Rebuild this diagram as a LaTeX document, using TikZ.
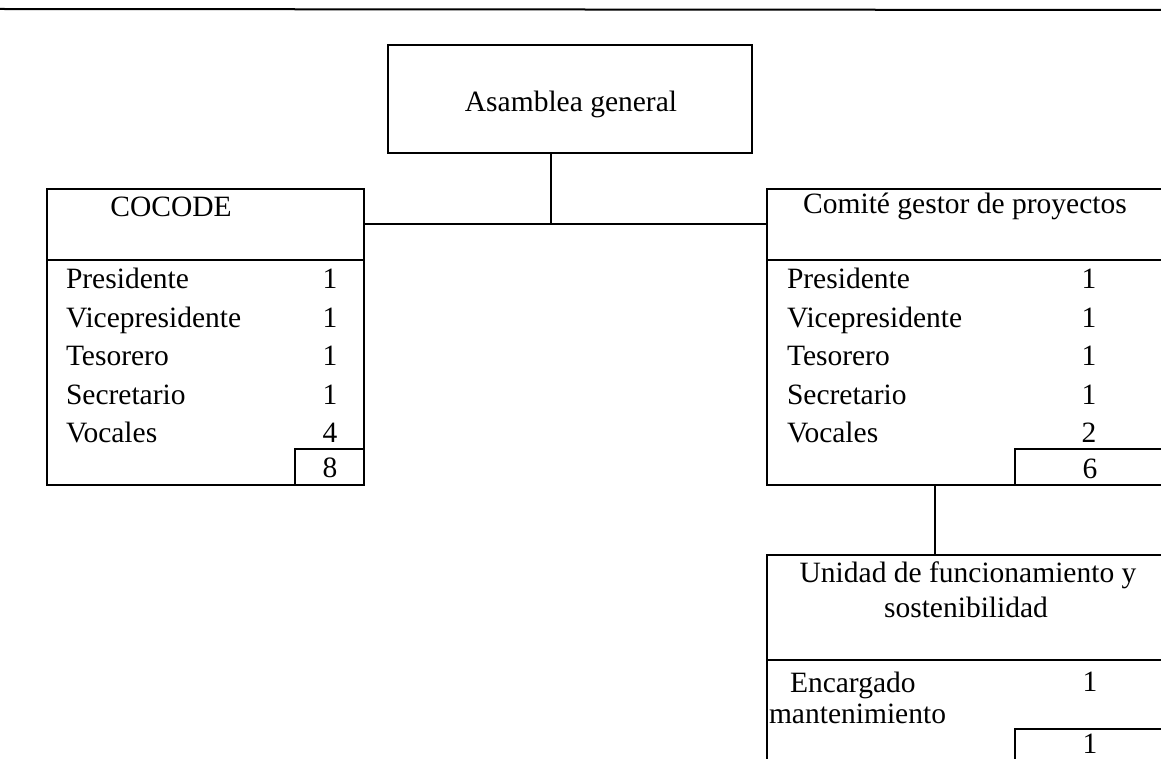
\documentclass[tikz,border=0pt]{standalone}
\usepackage{fontspec}
\setmainfont{Liberation Serif}
\begin{document}
\begin{tikzpicture}[x=1pt,y=-1pt,
  frame/.style={draw, line width=1.8pt, inner sep=0pt, outer sep=0pt, rectangle},
  lbl/.style={inner sep=0pt, outer sep=0pt, font=\fontsize{29.5}{35}\selectfont},
  link/.style={line width=1.8pt}]
\useasboundingbox (0,0) rectangle (1161,759);
% top rule
\draw[line width=2pt] (0,9) -- (1161,10);
% Asamblea general
\node[frame, minimum width=364pt, minimum height=108pt] (asam) at (570,99) {};
\node[lbl, anchor=base] (asamt) at (571,112) {Asamblea general};
% COCODE
\node[frame, minimum width=317pt, minimum height=296pt] (cocode) at (205.5,337) {};
\draw[link] (47,260) -- (364,260);
\node[lbl, anchor=base] (cocodet) at (171,217) {COCODE};
\foreach \n/\t/\v/\y in {c1/Presidente/1/288.5, c2/Vicepresidente/1/327, c3/Tesorero/1/365.5, c4/Secretario/1/404, c5/Vocales/4/442.5}{
  \node[lbl, anchor=base west] (\n l) at (66,\y) {\t};
  \node[lbl, anchor=base] (\n v) at (330,\y) {\v};
}
\node[frame, minimum width=69pt, minimum height=36pt] (cocodetot) at (329.5,467) {};
\node[lbl, anchor=base] (cocodetott) at (330,477) {8};
% Comite gestor
\node[frame, minimum width=398pt, minimum height=296pt] (comite) at (966,337) {};
\draw[link] (767,260) -- (1165,260);
\node[lbl, anchor=base] (comitet) at (965,214) {Comité gestor de proyectos};
\foreach \n/\t/\v/\y in {g1/Presidente/1/288.5, g2/Vicepresidente/1/327, g3/Tesorero/1/365.5, g4/Secretario/1/404, g5/Vocales/2/442.5}{
  \node[lbl, anchor=base west] (\n l) at (787,\y) {\t};
  \node[lbl, anchor=base] (\n v) at (1089,\y) {\v};
}
\node[frame, minimum width=150pt, minimum height=36pt] (comitetot) at (1090,467) {};
\node[lbl, anchor=base] (comitetott) at (1090,478) {6};
% Unidad
\node[frame, minimum width=398pt, minimum height=210pt] (unidad) at (966,660) {};
\draw[link] (767,660) -- (1165,660);
\node[lbl, anchor=base] (unidadt1) at (968,582) {Unidad de funcionamiento y};
\node[lbl, anchor=base] (unidadt2) at (966,617) {sostenibilidad};
\node[lbl, anchor=base west] (u1l) at (790,692) {Encargado};
\node[lbl, anchor=base west] (u1m) at (769,723) {mantenimiento};
\node[lbl, anchor=base] (u1v) at (1090,691) {1};
\node[frame, minimum width=150pt, minimum height=36pt] (unidadtot) at (1090,747) {};
\node[lbl, anchor=base] (unidadtott) at (1090,753.5) {1};
% connectors
\coordinate (j) at (551,224);
\coordinate (k) at (935,520);
\draw[link] (asam.south -| j) -- (j);
\draw[link] (j -| cocode.east) -- (j -| comite.west);
\draw[link] (comite.south -| k) -- (unidad.north -| k);
\end{tikzpicture}
\end{document}
